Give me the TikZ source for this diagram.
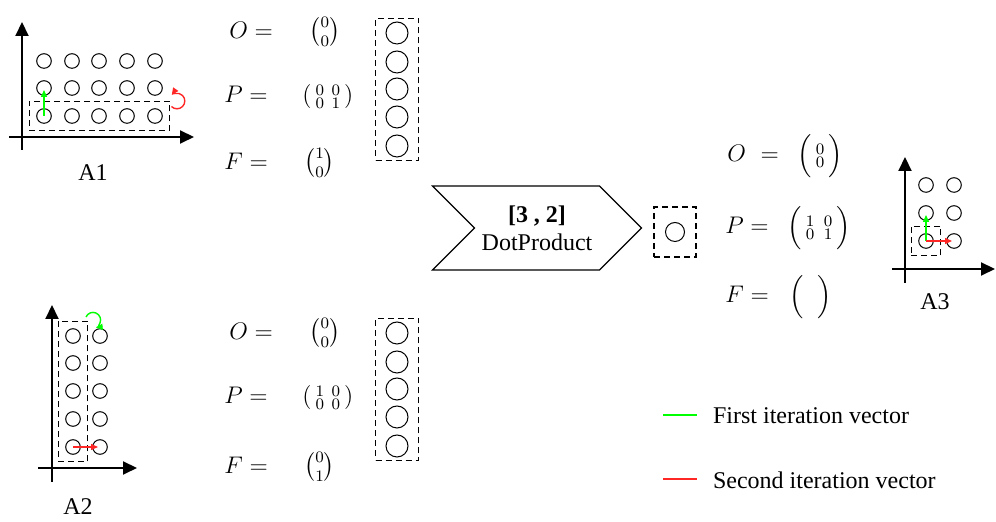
\documentclass[tikz,border=0pt]{standalone}
\usepackage{amsmath}
\usepackage{fontspec}
\setmainfont{Liberation Serif}
\usetikzlibrary{arrows.meta,positioning,shapes.symbols,fit}

\begin{document}
\begin{tikzpicture}[x=0.5pt,y=-0.5pt,font=\fontsize{12}{14}\selectfont,
  dot/.style={circle,draw,minimum size=7.3pt,inner sep=0pt,line width=0.5pt},
  big dot/.style={circle,draw,minimum size=11pt,inner sep=0pt,line width=0.5pt},
  dash box/.style={draw,dash pattern=on 3pt off 2pt,line width=0.6pt,inner sep=3.5pt},
  eq/.style={anchor=west,inner sep=0.5pt},
  axis/.style={-{Triangle[length=7pt,width=6.5pt]},line width=1pt},
  first/.style={draw=green,line width=0.7pt},
  second/.style={draw=red!85,line width=0.7pt},
  tip/.style={-{Triangle[length=3.5pt,width=3pt]},shorten >=1pt}]
\useasboundingbox (0,0) rectangle (996,522);

% ---- A1
\begin{scope}
\coordinate (a1y0) at (22,150); \coordinate (a1y1) at (22,22);
\coordinate (a1x0) at (9,137);  \coordinate (a1x1) at (194,137);
\draw[axis] (a1y0) -- (a1y1);
\draw[axis] (a1x0) -- (a1x1);
\node[dot] (a1-31) at (44,61) {}; \node[dot] (a1-32) at (72,61) {}; \node[dot] (a1-33) at (99,61) {}; \node[dot] (a1-34) at (127,61) {}; \node[dot] (a1-35) at (155,61) {};
\node[dot] (a1-21) at (44,88) {}; \node[dot] (a1-22) at (72,88) {}; \node[dot] (a1-23) at (99,88) {}; \node[dot] (a1-24) at (127,88) {}; \node[dot] (a1-25) at (155,88) {};
\node[dot] (a1-11) at (44,116) {}; \node[dot] (a1-12) at (72,116) {}; \node[dot] (a1-13) at (99,116) {}; \node[dot] (a1-14) at (127,116) {}; \node[dot] (a1-15) at (155,116) {};
\node[dash box,fit=(a1-11)(a1-15)] (w1) {};
\draw[first,tip] (a1-11.center) -- (a1-21.center);
\coordinate (turn1) at (177,101);
\draw[second,tip] ([shift={(-135:3.9pt)}]turn1) arc[start angle=-135,end angle=145,radius=3.9pt];
\node (A1) at (93,173) {A1};
\end{scope}

% ---- A2
\begin{scope}
\coordinate (a2y0) at (52,482); \coordinate (a2y1) at (52,305);
\coordinate (a2x0) at (38,468); \coordinate (a2x1) at (137,468);
\draw[axis] (a2y0) -- (a2y1);
\draw[axis] (a2x0) -- (a2x1);
\node[dot] (a2-51) at (73,336) {}; \node[dot] (a2-52) at (100,336) {};
\node[dot] (a2-41) at (73,363) {}; \node[dot] (a2-42) at (100,363) {};
\node[dot] (a2-31) at (73,391) {}; \node[dot] (a2-32) at (100,391) {};
\node[dot] (a2-21) at (73,419) {}; \node[dot] (a2-22) at (100,419) {};
\node[dot] (a2-11) at (73,447) {}; \node[dot] (a2-12) at (100,447) {};
\node[dash box,fit=(a2-51)(a2-11)] (w2) {};
\draw[second,tip] (a2-11.center) -- (a2-12.center);
\coordinate (turn2) at (93,320);
\draw[first,tip] ([shift={(157:3.8pt)}]turn2) arc[start angle=157,end angle=-85,radius=3.8pt];
\node (A2) at (78,507) {A2};
\end{scope}

% ---- filters
\node[eq] (o1) at (228,32) {$O=\hspace{15pt}\tbinom{0}{0}$};
\node[eq] (p1) at (223,97) {$P=\hspace{14pt}\left(\begin{smallmatrix}0&\hspace{0.5pt}0\\0&\hspace{0.5pt}1\end{smallmatrix}\right)$};
\node[eq] (f1) at (223,163) {$F=\hspace{15pt}\tbinom{1}{0}$};
\node[eq] (o2) at (228,333) {$O=\hspace{15pt}\tbinom{0}{0}$};
\node[eq] (p2) at (223,398) {$P=\hspace{14pt}\left(\begin{smallmatrix}1&\hspace{0.5pt}0\\0&\hspace{0.5pt}0\end{smallmatrix}\right)$};
\node[eq] (f2) at (223,467) {$F=\hspace{15pt}\tbinom{0}{1}$};

\node[big dot] (v11) at (397,33) {}; \node[big dot] (v12) at (397,62) {}; \node[big dot] (v13) at (397,89) {}; \node[big dot] (v14) at (397,117) {}; \node[big dot] (v15) at (397,146) {};
\node[dash box,inner xsep=5pt,inner ysep=1.5pt,fit=(v11)(v15)] (vec1) {};
\node[big dot] (v21) at (397,333) {}; \node[big dot] (v22) at (397,362) {}; \node[big dot] (v23) at (397,389) {}; \node[big dot] (v24) at (397,417) {}; \node[big dot] (v25) at (397,446) {};
\node[dash box,inner xsep=5pt,inner ysep=1.5pt,fit=(v21)(v25)] (vec2) {};

% ---- operation
\node[signal,signal from=west,signal to=east,draw,line width=0.6pt,minimum width=104.5pt,minimum height=42pt,align=center] (op) at (537,228) {\textbf{[3 , 2]}\\DotProduct};
\node[circle,draw,minimum size=9.5pt,inner sep=0pt,line width=0.5pt] (res) at (675,232) {};
\node[dash box,inner xsep=5.5pt,inner ysep=7.5pt,fit=(res)] (resbox) {};

% ---- A3
\node[eq] (o3) at (726,156) {$O\hspace{4pt}=\hspace{6pt}\Bigl(\begin{smallmatrix}0\\0\end{smallmatrix}\Bigr)$};
\node[eq] (p3) at (724,228) {$P=\hspace{6pt}\Bigl(\begin{smallmatrix}1&\hspace{1.5pt}0\\0&\hspace{1.5pt}1\end{smallmatrix}\Bigr)$};
\node[eq] (f3) at (724,297) {$F=\hspace{7pt}\Bigl(\hspace{7pt}\Bigr)$};
\begin{scope}
\coordinate (a3y0) at (905,283); \coordinate (a3y1) at (905,157);
\coordinate (a3x0) at (892,269); \coordinate (a3x1) at (995,269);
\draw[axis] (a3y0) -- (a3y1);
\draw[axis] (a3x0) -- (a3x1);
\node[dot] (a3-31) at (926,185) {}; \node[dot] (a3-32) at (954,185) {};
\node[dot] (a3-21) at (926,213) {}; \node[dot] (a3-22) at (954,213) {};
\node[dot] (a3-11) at (926,241) {}; \node[dot] (a3-12) at (954,241) {};
\node[dash box,fit=(a3-11)] (w3) {};
\draw[first,tip] (a3-11.center) -- (a3-21.center);
\draw[second,tip] (a3-11.center) -- (a3-12.center);
\node (A3) at (935,302) {A3};
\end{scope}

% ---- legend
\coordinate (g0) at (663,415); \coordinate (g1) at (697,415);
\coordinate (r0) at (663,479); \coordinate (r1) at (697,479);
\draw[first] (g0) -- (g1);
\draw[second] (r0) -- (r1);
\node[anchor=west] (lg) at (706,416) {First iteration vector};
\node[anchor=west] (lr) at (706,480) {Second iteration vector};
\end{tikzpicture}
\end{document}
